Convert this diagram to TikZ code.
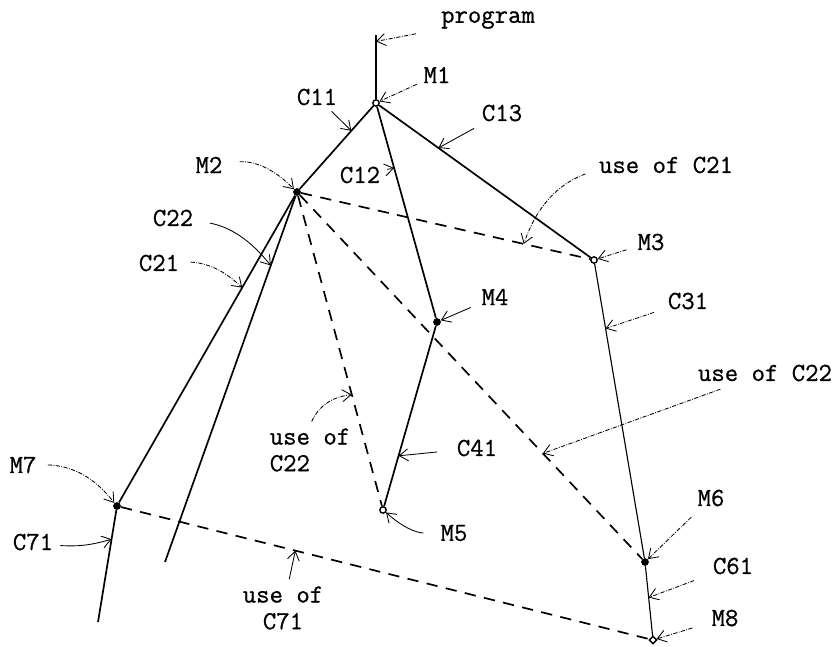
\documentclass[tikz,border=0pt]{standalone}
\usepackage{fontspec}
\newfontfamily\tw{Latin Modern Mono}[FakeBold=0.8]
\usepackage{tikz}
\usetikzlibrary{arrows.meta, shapes.geometric}

\begin{document}
\begin{tikzpicture}[
          x=0.025cm, y=-0.025cm,
          tag/.style={font=\fontsize{18.5}{19}\selectfont\tw, inner sep=2pt},
          mk/.style={circle, fill=black, inner sep=0pt, minimum size=5.5pt},
          omk/.style={circle, draw=black, line width=1pt, fill=white, inner sep=0pt, minimum size=4.5pt},
          odm/.style={diamond, draw=black, line width=1pt, fill=white, inner sep=0pt, minimum size=5.5pt},
          edge/.style={line width=1.2pt},
          thinedge/.style={line width=0.8pt},
          use/.style={line width=1.2pt, dash pattern=on 8pt off 6pt},
          lbl/.style={-{Straight Barb[length=2.2mm, width=3mm]}, line width=0.6pt, shorten <=3pt},
          lbldash/.style={lbl, densely dash dot}
        ]
        \useasboundingbox (0,0) rectangle (840,646);
        \node[omk] (M1) at (376,103) {};
        \node[mk] (M2) at (297,192) {};
        \node[omk] (M3) at (594,260) {};
        \node[mk] (M4) at (437,322) {};
        \node[omk] (M5) at (383,510) {};
        \node[mk] (M6) at (645,562) {};
        \node[mk] (M7) at (117,506) {};
        \node[odm] (M8) at (653,640) {};
        \coordinate (entry) at (376,35);
        \coordinate (C22end) at (165,562);
        \coordinate (C71end) at (98,622);

        \draw[edge] (entry) -- coordinate[pos=0.1] (p0) (M1);
        \draw[edge] (M1) -- coordinate[pos=0.3] (c11) (M2);
        \draw[edge] (M1) -- coordinate[pos=0.29] (c12) (M4);
        \draw[edge] (M1) -- coordinate[pos=0.28] (c13) (M3);
        \draw[edge] (M2) -- coordinate[pos=0.3] (c21) (M7);
        \draw[edge] (M2) -- coordinate[pos=0.19] (c22) (C22end);
        \draw[edge] (M7) -- coordinate[pos=0.26] (c71) (C71end);
        \draw[thinedge] (M3) -- coordinate[pos=0.22] (c31) (M6);
        \draw[edge] (M4) -- coordinate[pos=0.72] (c41) (M5);
        \draw[thinedge] (M6) -- coordinate[pos=0.45] (c61) (M8);

        \draw[use] (M2) -- coordinate[pos=0.77] (u21) (M3);
        \draw[use] (M2) -- coordinate[pos=0.64] (u22a) (M5);
        \draw[use] (M2) -- coordinate[pos=0.71] (u22b) (M6);
        \draw[use] (M7) -- coordinate[pos=0.33] (u71) (M8);

        \node[tag] (lprog) at (488,20) {program};
        \node[tag] (lM1) at (437,75) {M1};
        \node[tag] (lC11) at (317,97) {C11};
        \node[tag] (lC13) at (502,113) {C13};
        \node[tag] (lC12) at (360,175) {C12};
        \node[tag] (lM2) at (209,165) {M2};
        \node[tag] (lC22) at (173,218) {C22};
        \node[tag] (lC21) at (159,263) {C21};
        \node[tag] (lu21) at (666,165) {use of C21};
        \node[tag] (lM3) at (651,242) {M3};
        \node[tag] (lC31) at (688,301) {C31};
        \node[tag] (lM4) at (495,297) {M4};
        \node[tag, align=left] (lu22a) at (310,450) {use of\\C22};
        \node[tag] (lC41) at (477,448) {C41};
        \node[tag] (lM5) at (454,533) {M5};
        \node[tag] (lu22b) at (765,373) {use of C22};
        \node[tag] (lM6) at (711,498) {M6};
        \node[tag] (lC61) at (733,566) {C61};
        \node[tag] (lM8) at (725,618) {M8};
        \node[tag] (lM7) at (23,465) {M7};
        \node[tag] (lC71) at (33,542) {C71};
        \node[tag, align=center] (lu71) at (283,608) {use of\\C71};

        \draw[lbldash, shorten <=16pt] (lprog) -- (p0);
        \draw[lbldash] (lM1) -- (M1);
        \draw[lbl] (lC11) -- (c11);
        \draw[lbl, shorten <=6pt] (lC13) -- (c13);
        \draw[lbldash] (lC12) -- (c12);
        \draw[lbldash, shorten <=10pt] (lM2) to[bend left=25] (M2);
        \draw[lbl, shorten <=10pt] (lC22) to[bend left=20] (c22);
        \draw[lbldash, shorten <=6pt] (lC21) to[bend left=20] (c21);
        \draw[lbldash, shorten <=8pt] (lu21) to[bend right=25] (u21);
        \draw[lbldash, shorten <=6pt] (lM3) -- (M3);
        \draw[lbldash, shorten <=8pt] (lC31) -- (c31);
        \draw[lbl, shorten <=6pt] (lM4) -- (M4);
        \draw[lbldash] (lu22a.north) to[bend left=30] (u22a);
        \draw[lbl, shorten <=12pt] (lC41) -- (c41);
        \draw[lbl, shorten <=10pt] (lM5) to[bend left=20] (M5);
        \draw[lbldash, shorten <=10pt] (lu22b) -- (u22b);
        \draw[lbldash, shorten <=8pt] (lM6) -- (M6);
        \draw[lbldash, shorten <=12pt] (lC61) -- (c61);
        \draw[lbldash, shorten <=12pt] (lM8) -- (M8);
        \draw[lbldash, shorten <=6pt] (lM7) to[bend left=25] (M7);
        \draw[lbl] (lC71) to[bend right=10] (c71);
        \draw[lbl] (lu71) -- (u71);
      \end{tikzpicture}
\end{document}
